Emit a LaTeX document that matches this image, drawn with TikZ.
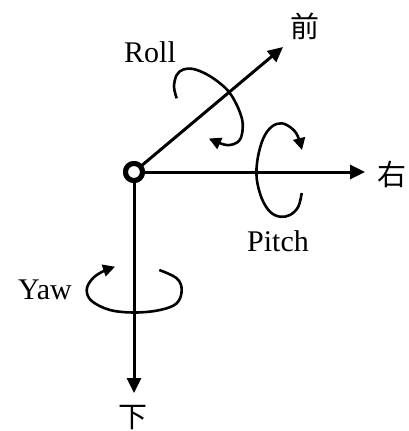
\documentclass[tikz,border=0pt]{standalone}
\usepackage{fontspec}
\setmainfont{Liberation Serif}
\newfontfamily\cjk{Noto Sans CJK SC}
\usetikzlibrary{arrows.meta}
\tikzset{
  axis/.style={line width=3pt, -{Triangle[length=15pt,width=14pt]}},
  rot/.style={line width=2.6pt, -{Triangle[length=12pt,width=12pt]}},
  lbl/.style={inner sep=0pt, font=\fontsize{30}{36}\selectfont},
  cjklbl/.style={inner sep=0pt, font=\cjk\fontsize{29}{34}\selectfont},
}
\begin{document}
\begin{tikzpicture}[x=1pt,y=-1pt]
\useasboundingbox (0,0) rectangle (408,431);
\coordinate (fwd) at (283,47);
\coordinate (rgt) at (365,172);
\coordinate (dwn) at (134,393);
\node[circle, draw, line width=5pt, fill=white, minimum size=17pt, inner sep=0pt] (o) at (134,172) {};
\draw[axis] (o) -- (fwd);
\draw[axis] (o) -- (rgt);
\draw[axis] (o) -- (dwn);
\node[circle, draw, line width=5pt, fill=white, minimum size=17pt, inner sep=0pt] at (o) {};
% labels
\node[cjklbl] (lf) at (305,26) {前};
\node[cjklbl] (lr) at (392,174) {右};
\node[cjklbl] (ld) at (133,418) {下};
\node[lbl] (roll) at (150,52.5) {Roll};
\node[lbl] (pitch) at (278,241) {Pitch};
\node[lbl] (yaw) at (45,290) {Yaw};
% Roll loop
\draw[rot] plot[smooth, tension=0.6] coordinates {(176.7,98.3) (174,86.7) (176.7,75) (183.3,69.5) (193.3,69) (206.7,74.3) (220,83.3) (230,93.3) (238.3,108.3) (242.7,123.3) (240.7,138.3) (233.3,144.3) (224,144.5) (209,138.5)};
% Pitch loop
\draw[rot] plot[smooth, tension=0.6] coordinates {(301.7,193) (298.3,206.7) (290,215) (280,216.7) (270,211.7) (261.7,198.3) (256.7,178.3) (257.7,158.3) (263.3,138.3) (271.7,126.7) (281.7,123.3) (291.7,128.3) (297.7,136) (302,150)};
% Yaw loop
\draw[rot] plot[smooth, tension=0.6] coordinates {(159.3,270) (176.7,278.3) (181.7,290) (176.7,303.3) (160,310) (135,312.5) (110,310) (91.7,301) (86.7,290) (91.7,279.5) (101.7,272) (115,266.7)};
\end{tikzpicture}
\end{document}
